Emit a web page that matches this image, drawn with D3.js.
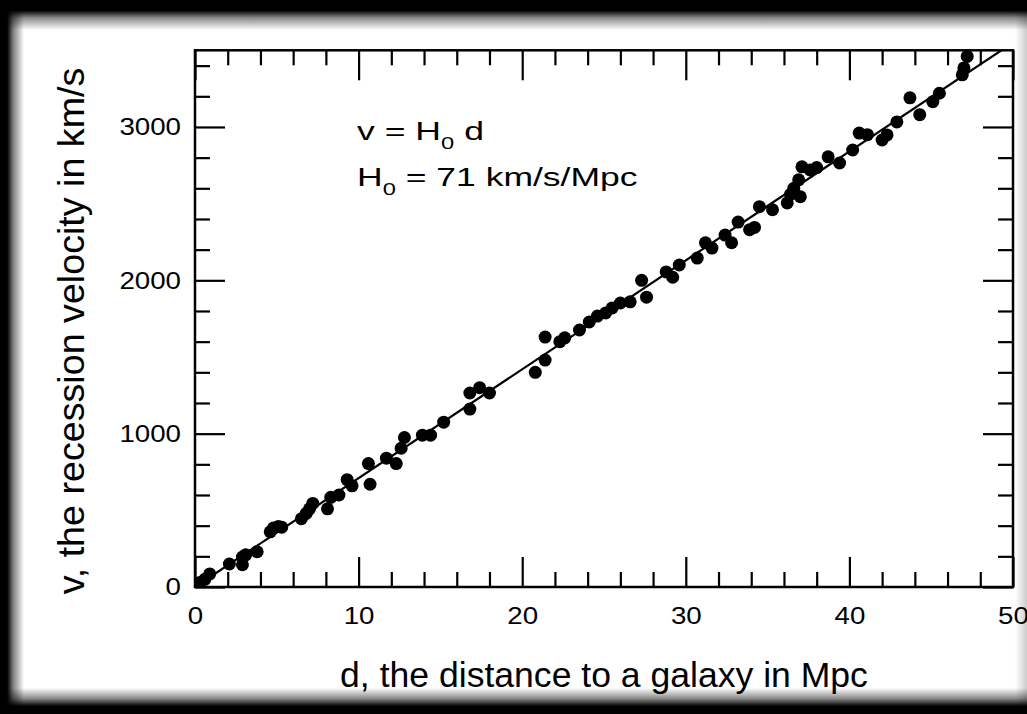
<!DOCTYPE html>
<html><head><meta charset="utf-8">
<script src="https://cdn.jsdelivr.net/npm/d3@7"></script>
<style>html,body{margin:0;padding:0;background:#fff;overflow:hidden;} svg{display:block}</style>
</head><body>
<svg id="c" width="1027" height="714"></svg>
<script>
// ---- data ----
const distances = [0.3,0.6,0.9,2.1,2.9,2.9,3.1,3.8,4.6,4.8,5.1,5.3,6.5,6.8,7.0,7.2,8.1,8.3,8.8,9.3,9.6,
  10.6,10.7,11.7,12.3,12.6,12.8,13.9,14.4,15.2,16.8,16.8,17.4,18.0,20.8,21.4,21.4,22.3,22.6,
  23.5,24.1,24.6,25.1,25.5,26.0,26.6,27.3,27.6,28.8,29.2,29.6,30.7,31.2,31.6,32.4,32.8,33.2,33.9,34.2,
  34.5,35.3,36.2,36.4,36.6,37.0,36.9,37.1,37.6,38.0,38.7,39.4,40.2,40.6,41.1,42.0,42.3,42.9,
  43.7,44.3,45.1,45.5,46.9,47.0,47.2];
const velocities = [30,50,85,150,195,145,210,230,360,385,395,390,445,480,510,545,510,585,600,700,660,
  805,670,840,805,905,975,990,990,1075,1160,1265,1300,1265,1400,1480,1630,1600,1625,
  1676,1728,1767,1787,1820,1852,1860,2000,1890,2055,2020,2100,2145,2245,2210,2295,2245,2380,2330,2345,
  2480,2460,2505,2560,2600,2545,2655,2740,2720,2735,2805,2765,2850,2960,2950,2915,2948,3033,
  3190,3080,3165,3220,3340,3385,3460];
const hubbleConstant = 71;
const xMajorTicks = [0,10,20,30,40,50];
const yMajorTicks = [0,1000,2000,3000];
const xLabel = "d, the distance to a galaxy in Mpc";
const yLabel = "v, the recession velocity in km/s";

// ---- layout ----
const W = 1027, H = 714;
const px0 = 195, px1 = 1013, py0 = 50.3, py1 = 587;
const svg = d3.select("#c");
const font = "'Liberation Sans', Arial, Helvetica, sans-serif";

const x = d3.scaleLinear().domain([0,50]).range([px0,px1]);
const y = d3.scaleLinear().domain([0,3500]).range([py1,py0]);

svg.append("rect").attr("width",W).attr("height",H).attr("fill","#fff");

const clipId = "plotclip";
const defs = svg.append("defs");
defs.append("clipPath").attr("id",clipId)
  .append("rect").attr("x",px0).attr("y",py0).attr("width",px1-px0).attr("height",py1-py0);

const xMinor = d3.range(0,51,2).filter(v => v%10 !== 0);
const yMinor = d3.range(0,3501,200).filter(v => v%1000 !== 0);

function styleAxis(g){
  g.select(".domain").remove();
  g.selectAll(".tick line").attr("stroke","#000").attr("stroke-width",2.2);
  g.selectAll("text").attr("font-family",font).attr("font-size",24.5).attr("fill","#000")
    .each(function(){
      const len = this.getComputedTextLength();
      if (len > 0) d3.select(this).attr("textLength", len*1.13).attr("lengthAdjust","spacingAndGlyphs");
    });
}
svg.append("g").attr("transform",`translate(0,${py1})`)
  .call(d3.axisBottom(x).tickValues(xMajorTicks).tickSize(-30).tickPadding(20).tickFormat(d3.format("d"))).call(styleAxis);
svg.append("g").attr("transform",`translate(0,${py1})`)
  .call(d3.axisBottom(x).tickValues(xMinor).tickSize(-15).tickFormat("")).call(styleAxis);
svg.append("g").attr("transform",`translate(0,${py0})`)
  .call(d3.axisTop(x).tickValues(xMajorTicks).tickSize(-30).tickFormat("")).call(styleAxis);
svg.append("g").attr("transform",`translate(0,${py0})`)
  .call(d3.axisTop(x).tickValues(xMinor).tickSize(-15).tickFormat("")).call(styleAxis);
svg.append("g").attr("transform",`translate(${px0},0)`)
  .call(d3.axisLeft(y).tickValues(yMajorTicks).tickSize(-30).tickPadding(14).tickFormat(d3.format("d"))).call(styleAxis);
svg.append("g").attr("transform",`translate(${px0},0)`)
  .call(d3.axisLeft(y).tickValues(yMinor).tickSize(-15).tickFormat("")).call(styleAxis);
svg.append("g").attr("transform",`translate(${px1},0)`)
  .call(d3.axisRight(y).tickValues(yMajorTicks).tickSize(-30).tickFormat("")).call(styleAxis);
svg.append("g").attr("transform",`translate(${px1},0)`)
  .call(d3.axisRight(y).tickValues(yMinor).tickSize(-15).tickFormat("")).call(styleAxis);

// fit line
const fitLine = d3.line().x(d => x(d)).y(d => y(hubbleConstant*d));
svg.append("path").attr("clip-path",`url(#${clipId})`)
  .attr("d", fitLine([0,50])).attr("stroke","#000").attr("stroke-width",2.2).attr("fill","none");

// points
const pts = distances.map((d,i) => ({d, v: velocities[i]}));
svg.append("g").attr("clip-path",`url(#${clipId})`).selectAll("circle").data(pts).join("circle")
  .attr("cx", p => x(p.d)).attr("cy", p => y(p.v)).attr("r",6.5).attr("fill","#000");

// frame box
svg.append("rect").attr("x",px0).attr("y",py0).attr("width",px1-px0).attr("height",py1-py0)
  .attr("fill","none").attr("stroke","#000").attr("stroke-width",2.5);

// annotation
function annot(parts, x0, base, target){
  const outer = svg.append("g");
  const inner = outer.append("g");
  const t = inner.append("text").attr("x",0).attr("y",base)
    .attr("font-family",font).attr("font-size",25.5).attr("fill","#000");
  parts.forEach(p => {
    if (p.sub) t.append("tspan").text(p.text).attr("font-size",17).attr("dy",9);
    else t.append("tspan").text(p.text).attr("dy", p.back ? -9 : 0);
  });
  const s = target / inner.node().getBBox().width;
  outer.attr("transform",`translate(${x0},0) scale(${s},1)`);
}
annot([{text:"v = H"},{text:"0",sub:true},{text:" d",back:true}], 357, 140, 127);
annot([{text:"H"},{text:"0",sub:true},{text:" = 71 km/s/Mpc",back:true}], 357, 186, 281);

// axis titles
const xt = svg.append("text").attr("x",604).attr("y",687).attr("text-anchor","middle")
  .attr("font-family",font).attr("font-size",33).attr("fill","#000").text(xLabel);
xt.attr("font-size", 33*528/xt.node().getComputedTextLength());
const yt = svg.append("text").attr("transform","translate(84,331) rotate(-90)").attr("text-anchor","middle")
  .attr("font-family",font).attr("font-size",33).attr("fill","#000").text(yLabel);
yt.attr("font-size", 33*527/yt.node().getComputedTextLength());

// dark vignette frame built from gradient strips
function strip(id, x1, y1, x2, y2, stops, rx, ry, rw, rh){
  const g = defs.append("linearGradient").attr("id",id)
    .attr("x1",x1).attr("y1",y1).attr("x2",x2).attr("y2",y2);
  stops.forEach(s => g.append("stop").attr("offset",s[0]).attr("stop-color","#000").attr("stop-opacity",s[1]));
  svg.append("rect").attr("x",rx).attr("y",ry).attr("width",rw).attr("height",rh).attr("fill",`url(#${id})`);
}
strip("gl",0,0,1,0,[[0,1],[0.3,1],[0.55,0.5],[1,0]], 0,0,24,H);
strip("gt",0,0,0,1,[[0,1],[0.35,1],[0.6,0.45],[1,0]], 0,0,W,30);
strip("gb",0,1,0,0,[[0,1],[0.3,1],[0.6,0.45],[1,0]], 0,688,W,26);
strip("gr",0,0,1,0,[[0,0],[1,0.2]], 1015,0,12,H);
</script>
</body></html>
